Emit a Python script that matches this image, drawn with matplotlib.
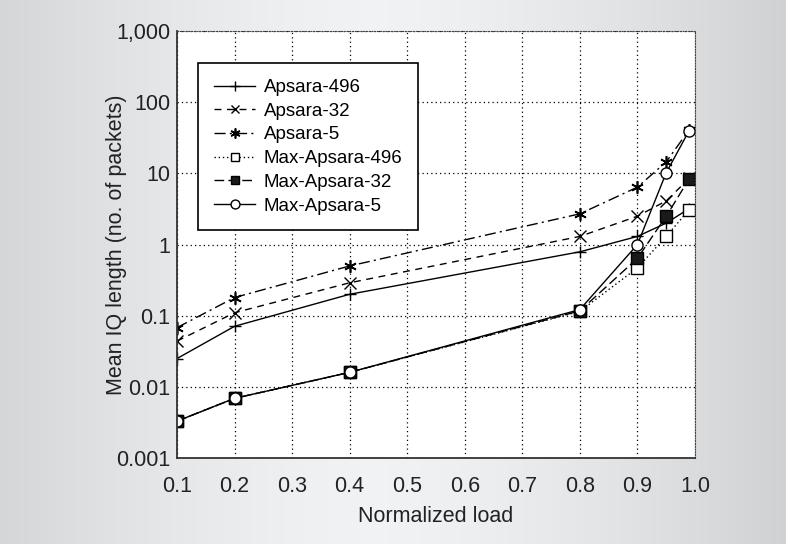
import numpy as np
import matplotlib
matplotlib.use("Agg")
import matplotlib.pyplot as plt
from matplotlib.ticker import FixedLocator, FixedFormatter, NullLocator

plt.rcParams['font.family'] = ['Liberation Sans', 'DejaVu Sans']

load = [0.1, 0.2, 0.4, 0.8, 0.9, 0.95, 0.99]
apsara_496 = [0.025, 0.071, 0.20, 0.79, 1.3, 2.0, 3.2]
apsara_32 = [0.044, 0.11, 0.29, 1.3, 2.5, 4.1, 8.5]
apsara_5 = [0.068, 0.18, 0.50, 2.7, 6.4, 14.5, 41]
max_apsara_496 = [0.0033, 0.0069, 0.016, 0.115, 0.47, 1.3, 3.1]
max_apsara_32 = [0.0033, 0.0069, 0.016, 0.117, 0.64, 2.5, 8.4]
max_apsara_5 = [0.0033, 0.0069, 0.016, 0.122, 1.0, 10.2, 40]

x_ticks = [0.1, 0.2, 0.3, 0.4, 0.5, 0.6, 0.7, 0.8, 0.9, 1.0]
x_labels = ["0.1", "0.2", "0.3", "0.4", "0.5", "0.6", "0.7", "0.8", "0.9", "1.0"]
y_ticks = [0.001, 0.01, 0.1, 1, 10, 100, 1000]
y_labels = ["0.001", "0.01", "0.1", "1", "10", "100", "1,000"]

fig = plt.figure(figsize=(7.86, 5.44), dpi=100)

# gray background, lighter in the middle
bg = fig.add_axes([0, 0, 1, 1], zorder=-10)
t = np.linspace(-1, 1, 400)
shade = 0.955 - 0.12 * np.abs(t + 0.05) ** 1.5
grad = np.tile(shade, (10, 1))
bg.imshow(np.dstack([grad - 0.01, grad - 0.005, grad]), aspect='auto',
          extent=[0, 1, 0, 1])
bg.axis('off')

ax = fig.add_axes([0.2252, 0.158, 0.6590, 0.785])
ax.set_facecolor('white')

lw = 1.0
ax.plot(load, apsara_496, color='black', lw=lw, ls='-', marker='+', ms=9,
        mew=1, label='Apsara-496')
ax.plot(load, apsara_32, color='black', lw=lw, ls=(0, (5, 4)), marker='x',
        ms=8, mew=1, label='Apsara-32')
ax.plot(load, apsara_5, color='black', lw=lw, ls=(0, (8, 3, 1.5, 3)),
        marker=(6, 2, 0), ms=9, mew=1.2, label='Apsara-5')
ax.plot(load, max_apsara_496, color='black', lw=lw, ls=(0, (1, 2)),
        marker='s', ms=8, mfc='white', mew=1, label='Max-Apsara-496')
ax.plot(load, max_apsara_32, color='black', lw=lw, ls=(0, (7, 3)),
        marker='s', ms=8, mfc='#1a1a1a', mew=1, label='Max-Apsara-32')
ax.plot(load, max_apsara_5, color='black', lw=lw, ls='-', marker='o', ms=8,
        mfc='white', mew=1, label='Max-Apsara-5')

ax.set_yscale('log')
ax.set_xlim(0.1, 1.0)
ax.set_ylim(0.001, 1000)
ax.xaxis.set_major_locator(FixedLocator(x_ticks))
ax.xaxis.set_major_formatter(FixedFormatter(x_labels))
ax.yaxis.set_major_locator(FixedLocator(y_ticks))
ax.yaxis.set_major_formatter(FixedFormatter(y_labels))
ax.yaxis.set_minor_locator(NullLocator())
ax.tick_params(length=0, labelsize=15.5, colors='#222222', pad=5)
ax.tick_params(axis='x', pad=13)

ax.grid(True, color='black', ls=(0, (1, 2.5)), lw=0.9)
for side in ['top', 'right']:
    ax.spines[side].set_linestyle((0, (1, 1.5)))
    ax.spines[side].set_color('#444444')
for side in ['left', 'bottom']:
    ax.spines[side].set_color('#333333')
    ax.spines[side].set_linewidth(1.3)

ax.set_xlabel('Normalized load', fontsize=15.5, color='#222222', va='center')
ax.xaxis.set_label_coords(0.5, -0.136)
ax.set_ylabel('Mean IQ length (no. of packets)', fontsize=15.5,
              color='#222222', va='center')
ax.yaxis.set_label_coords(-0.116, 0.5)

leg = ax.legend(loc='upper left', bbox_to_anchor=(0.0405, 0.925),
                fontsize=13.5, fancybox=False, framealpha=1,
                edgecolor='black', handlelength=2.2, labelspacing=0.35,
                borderpad=0.85, handletextpad=0.45, borderaxespad=0,
                markerscale=0.8)
leg.get_frame().set_linewidth(1.2)

fig.savefig('out.png', dpi=100)
